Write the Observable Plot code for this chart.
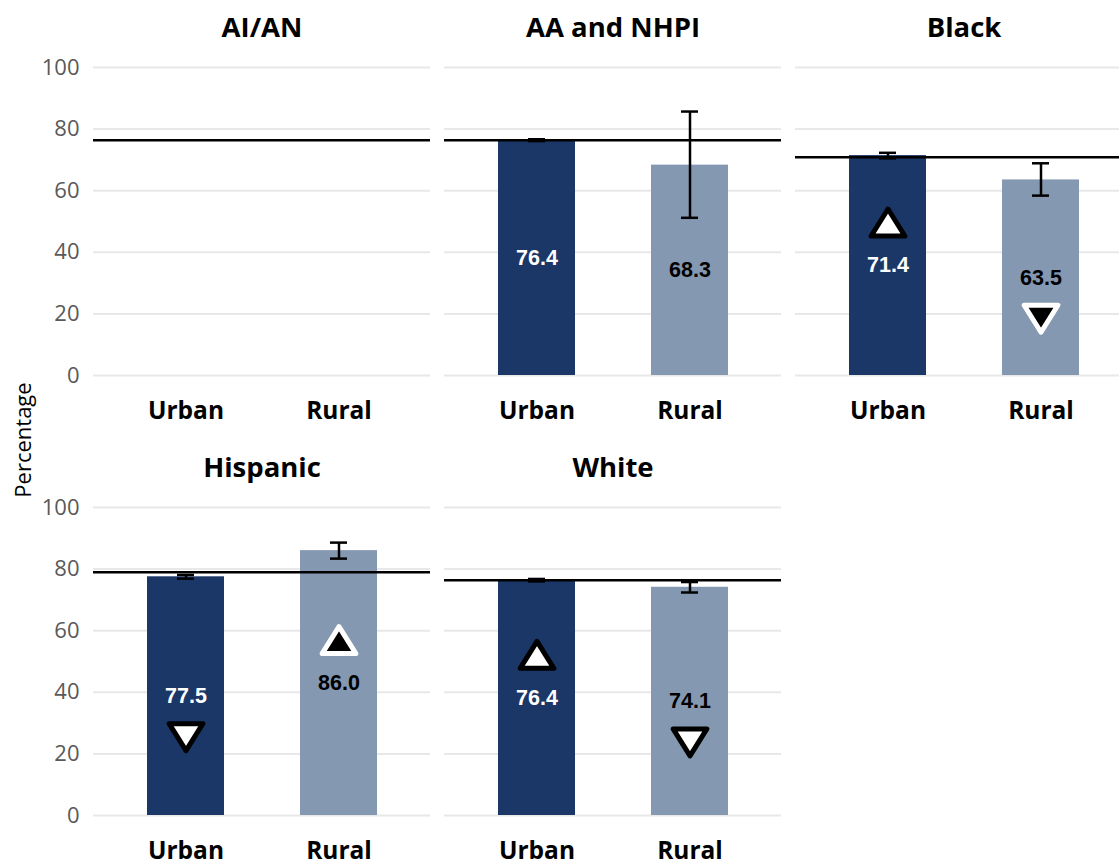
<!DOCTYPE html>
<html>
<head>
<meta charset="utf-8">
<script src="https://cdn.jsdelivr.net/npm/d3@7"></script>
<script src="https://cdn.jsdelivr.net/npm/@observablehq/plot@0.6"></script>
<style>
  html, body { margin: 0; padding: 0; background: #fff; overflow: hidden; }
  #chart { position: relative; width: 1119px; height: 863px; overflow: hidden; }
  #chart svg { position: absolute; overflow: visible; }
  #ylabel { position: absolute; left: 22px; top: 440px; transform: translate(-50%, -50%) rotate(-90deg);
            font-family: "Open Sans", sans-serif; font-size: 22px; color: #000; white-space: nowrap; }
</style>
</head>
<body>
<div id="chart"><div id="ylabel">Percentage</div></div>
<script>
// ---- data ----
const races = ["AI/AN", "AA and NHPI", "Black", "Hispanic", "White"];
const areas = ["Urban", "Rural"];
const referenceValues = [76.4, 76.4, 70.9, 79.0, 76.4];
const urbanValues = [null, 76.4, 71.4, 77.5, 76.4];
const ruralValues = [null, 68.3, 63.5, 86.0, 74.1];
const urbanLow  = [null, 76.1, 70.5, 76.9, 76.0];
const urbanHigh = [null, 76.7, 72.3, 78.1, 76.8];
const ruralLow  = [null, 51.2, 58.4, 83.4, 72.4];
const ruralHigh = [null, 85.7, 68.9, 88.6, 75.8];
const urbanMarker = [null, null, "up", "down", "up"];
const urbanMarkerStyle = [null, null, "hollow", "hollow", "hollow"];
const ruralMarker = [null, null, "down", "up", "down"];
const ruralMarkerStyle = [null, null, "solid", "solid", "hollow"];
const yTicks = [0, 20, 40, 60, 80, 100];

// ---- styling ----
const navy = "#1b3768";
const steel = "#8598b2";
const upTri = { draw(ctx, size) { const r = Math.sqrt(size / Math.PI);
  ctx.moveTo(0, -r); ctx.lineTo(1.25 * r, r); ctx.lineTo(-1.25 * r, r); ctx.closePath(); } };
const downTri = { draw(ctx, size) { const r = Math.sqrt(size / Math.PI);
  ctx.moveTo(0, r); ctx.lineTo(1.25 * r, -r); ctx.lineTo(-1.25 * r, -r); ctx.closePath(); } };

const panelLeft = [0, 444, 795, 0, 444];
const panelTop = [0, 0, 0, 440, 440];
const chart = document.getElementById("chart");

races.forEach((race, i) => {
  const firstCol = panelLeft[i] === 0;
  const ml = firstCol ? 93 : 0;
  const rows = [
    {area: "Urban", value: urbanValues[i], lo: urbanLow[i], hi: urbanHigh[i], marker: urbanMarker[i], mstyle: urbanMarkerStyle[i]},
    {area: "Rural", value: ruralValues[i], lo: ruralLow[i], hi: ruralHigh[i], marker: ruralMarker[i], mstyle: ruralMarkerStyle[i]}
  ];
  const bars = rows.filter(d => d.value != null);
  const marks = [
    Plot.ruleY(yTicks, {stroke: "#e8e8e8", strokeWidth: 2}),
    Plot.barY(bars, {x: "area", y: "value", fill: "area"}),
    Plot.ruleY([referenceValues[i]], {stroke: "#000", strokeWidth: 2.5}),
    Plot.ruleX(bars, {x: "area", y1: "lo", y2: "hi", stroke: "#000", strokeWidth: 2.5}),
    Plot.tickY(bars, {x: "area", y: "lo", stroke: "#000", strokeWidth: 2.5, insetLeft: 30, insetRight: 30}),
    Plot.tickY(bars, {x: "area", y: "hi", stroke: "#000", strokeWidth: 2.5, insetLeft: 30, insetRight: 30}),
    Plot.text(bars.filter(d => d.area === "Urban"), {x: "area", y: d => d.value / 2, text: d => d.value.toFixed(1),
      fill: "#fff", fontSize: 21.5, fontWeight: 700, fontFamily: "Liberation Sans, Arial, sans-serif"}),
    Plot.text(bars.filter(d => d.area === "Rural"), {x: "area", y: d => d.value / 2, text: d => d.value.toFixed(1),
      fill: "#000", fontSize: 21.5, fontWeight: 700, fontFamily: "Liberation Sans, Arial, sans-serif"}),
    Plot.axisX({tickSize: 0, tickPadding: 26, fontSize: 24.5, fontWeight: 700, fill: "#000", label: null}),
    Plot.text([race], {frameAnchor: "top", lineAnchor: "middle", dy: -39, fontSize: 27.5, fontWeight: 700, fill: "#000"})
  ];
  for (const dir of ["up", "down"]) {
    for (const st of ["hollow", "solid"]) {
      const sub = bars.filter(d => d.marker === dir && d.mstyle === st);
      if (!sub.length) continue;
      marks.push(Plot.dot(sub, {x: "area", y: d => d.value / 2, dy: dir === "up" ? -43 : 41,
        symbol: dir === "up" ? upTri : downTri, r: 13.5,
        fill: st === "hollow" ? "#fff" : "#000", stroke: st === "hollow" ? "#000" : "#fff",
        strokeWidth: 5, strokeLinejoin: "round"}));
    }
  }
  if (firstCol) {
    marks.push(Plot.axisY(yTicks, {tickSize: 0, tickPadding: 14, fontSize: 22, fill: "#595959", label: null}));
  }
  const svg = Plot.plot({
    width: ml + 337, height: 440,
    marginLeft: ml, marginRight: 0, marginTop: 67, marginBottom: 65,
    style: {fontFamily: "'Open Sans', sans-serif", background: "transparent", overflow: "visible"},
    x: {domain: areas, paddingInner: 0.5, paddingOuter: 0.35, axis: null},
    y: {domain: [0, 100], axis: null},
    color: {domain: areas, range: [navy, steel]},
    marks
  });
  svg.style.left = panelLeft[i] + "px";
  svg.style.top = panelTop[i] + "px";
  chart.appendChild(svg);
});
</script>
</body>
</html>
